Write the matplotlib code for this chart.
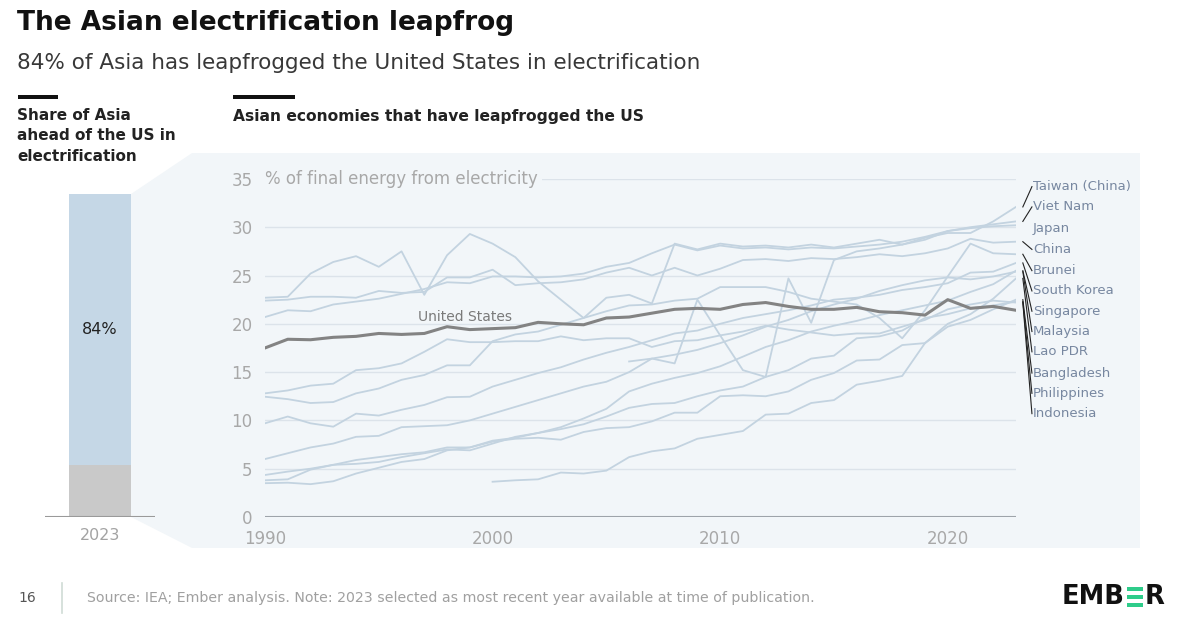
import matplotlib
matplotlib.use("Agg")
import matplotlib.pyplot as plt
import numpy as np
from matplotlib.patches import Polygon, Rectangle

nan = np.nan
years = list(range(1990, 2024))

# % of final energy from electricity
united_states = [17.5, 18.4, 18.35, 18.6, 18.7, 19.0, 18.9, 19.0, 19.7, 19.4,
                 19.5, 19.6, 20.15, 20.0, 19.9, 20.6, 20.7, 21.1, 21.5, 21.6,
                 21.5, 22.0, 22.2, 21.8, 21.5, 21.5, 21.7, 21.25, 21.15, 20.9,
                 22.5, 21.6, 21.8, 21.4]

taiwan = [6.0, 6.6, 7.2, 7.6, 8.3, 8.4, 9.3, 9.4, 9.5, 10.0,
          10.7, 11.4, 12.1, 12.8, 13.5, 14.0, 15.0, 16.4, 15.9, 22.5,
          18.8, 15.2, 14.5, 24.7, 20.1, 26.6, 27.5, 27.8, 28.2, 28.9,
          29.4, 29.4, 30.6, 32.1]
viet_nam = [20.7, 21.4, 21.3, 22.0, 22.3, 22.6, 23.1, 23.6, 24.3, 24.2,
            24.9, 24.9, 24.8, 24.9, 25.2, 25.9, 26.3, 27.3, 28.2, 27.6,
            28.1, 27.8, 27.9, 27.7, 27.9, 27.8, 28.0, 28.2, 28.5, 29.0,
            29.6, 30.0, 30.3, 30.6]
japan = [22.7, 22.8, 25.2, 26.4, 27.0, 25.9, 27.5, 23.0, 27.1, 29.3,
         28.3, 26.9, 24.4, 22.5, 20.6, 22.7, 23.0, 22.1, 28.3, 27.7,
         28.3, 28.0, 28.1, 27.9, 28.2, 27.9, 28.3, 28.7, 28.2, 28.7,
         29.6, 29.9, 30.1, 30.2]
china = [22.4, 22.5, 22.8, 22.8, 22.7, 23.4, 23.2, 23.3, 24.8, 24.8,
         25.6, 24.0, 24.2, 24.3, 24.6, 25.3, 25.8, 25.0, 25.8, 25.0,
         25.7, 26.6, 26.7, 26.5, 26.8, 26.7, 26.9, 27.2, 27.0, 27.3,
         27.8, 28.8, 28.4, 28.5]
brunei = [12.45, 12.2, 11.8, 11.9, 12.8, 13.3, 14.2, 14.7, 15.7, 15.7,
          18.2, 18.9, 19.2, 19.9, 20.6, 21.3, 21.9, 22.0, 22.4, 22.6,
          23.8, 23.8, 23.8, 23.3, 22.6, 22.3, 22.0, 20.6, 18.5, 21.4,
          24.9, 28.3, 27.3, 27.2]
south_korea = [9.7, 10.4, 9.7, 9.35, 10.7, 10.5, 11.1, 11.6, 12.4, 12.45,
               13.5, 14.2, 14.9, 15.5, 16.3, 17.0, 17.6, 18.3, 19.0, 19.3,
               20.0, 20.6, 21.0, 21.4, 21.9, 22.5, 22.7, 23.0, 23.5, 23.8,
               24.2, 25.3, 25.4, 26.3]
singapore = [4.35, 4.7, 5.0, 5.4, 5.5, 5.7, 6.2, 6.6, 7.0, 6.9,
             7.6, 8.3, 8.7, 9.3, 10.2, 11.2, 13.0, 13.8, 14.4, 14.9,
             15.6, 16.6, 17.6, 18.3, 19.2, 19.8, 20.3, 20.9, 21.4, 21.9,
             22.4, 23.3, 24.1, 25.5]
malaysia = [nan] * 16 + [16.1, 16.4, 16.8, 17.3,
                         18.0, 18.8, 19.7, 20.4, 21.3, 22.0, 22.6, 23.4, 24.0, 24.5,
                         24.8, 24.6, 24.9, 25.4]
lao_pdr = [nan] * 10 + [3.65, 3.8, 3.9, 4.6, 4.5, 4.8, 6.2, 6.8, 7.1, 8.1,
                        8.5, 8.9, 10.6, 10.7, 11.8, 12.1, 13.7, 14.1, 14.6, 18.0,
                        20.0, 21.0, 22.6, 24.7]
bangladesh = [3.8, 3.9, 4.9, 5.4, 5.9, 6.2, 6.5, 6.7, 7.2, 7.2,
              7.8, 8.1, 8.2, 8.0, 8.8, 9.2, 9.3, 9.9, 10.8, 10.8,
              12.5, 12.6, 12.5, 13.0, 14.2, 14.9, 16.2, 16.3, 17.8, 18.0,
              19.7, 20.4, 21.5, 22.5]
philippines = [3.5, 3.55, 3.4, 3.7, 4.5, 5.1, 5.7, 6.0, 6.9, 7.2,
               7.9, 8.2, 8.7, 9.1, 9.6, 10.4, 11.3, 11.7, 11.8, 12.5,
               13.1, 13.5, 14.5, 15.2, 16.4, 16.7, 18.5, 18.7, 19.3, 20.6,
               21.0, 21.6, 21.9, 22.3]
indonesia = [12.8, 13.1, 13.6, 13.8, 15.2, 15.4, 15.9, 17.1, 18.4, 18.1,
             18.1, 18.2, 18.2, 18.7, 18.3, 18.5, 18.5, 17.6, 18.2, 18.3,
             18.8, 19.2, 19.8, 19.4, 19.1, 18.8, 19.0, 19.0, 19.7, 20.4,
             21.5, 22.0, 22.4, 22.2]

economies = ["Taiwan (China)", "Viet Nam", "Japan", "China", "Brunei", "South Korea",
             "Singapore", "Malaysia", "Lao PDR", "Bangladesh", "Philippines", "Indonesia"]
economy_values = [taiwan, viet_nam, japan, china, brunei, south_korea,
                  singapore, malaysia, lao_pdr, bangladesh, philippines, indonesia]

bar_year = "2023"
share_ahead = 84
share_behind = 100 - share_ahead

W, H = 1200, 622
plt.rcParams['font.family'] = ["DejaVu Sans"]


def fx(px):
    return px / W


def fy(py):
    return 1 - py / H


fig = plt.figure(figsize=(12, 6.22), dpi=100)
fig.patch.set_facecolor("white")

# light panel behind the line chart, joined to the bar
panel_col = "#F2F6F9"
fig.patches.append(Polygon([(fx(131), fy(194)), (fx(192), fy(153)), (fx(1140), fy(153)),
                            (fx(1140), fy(548)), (fx(192), fy(548)), (fx(131), fy(517))],
                           closed=True, transform=fig.transFigure, facecolor=panel_col,
                           edgecolor="none", zorder=-5))

# header
fig.text(fx(17), fy(23), "The Asian electrification leapfrog", fontsize=19, fontweight="bold",
         color="#111111", va="center")
fig.text(fx(17), fy(63), "84% of Asia has leapfrogged the United States in electrification",
         fontsize=15.5, color="#383838", va="center")
fig.patches.append(Rectangle((fx(18), fy(99)), fx(40), 4 / H, transform=fig.transFigure,
                             facecolor="#111111", edgecolor="none"))
fig.patches.append(Rectangle((fx(233), fy(99)), fx(62), 4 / H, transform=fig.transFigure,
                             facecolor="#111111", edgecolor="none"))
fig.text(fx(17), fy(108), "Share of Asia\nahead of the US in\nelectrification", fontsize=11,
         fontweight="bold", color="#222222", va="top", linespacing=1.45)
fig.text(fx(233), fy(117), "Asian economies that have leapfrogged the US", fontsize=11.2,
         fontweight="bold", color="#222222", va="center")

# stacked share bar
axb = fig.add_axes([fx(45), fy(517), fx(110), (517 - 194) / H])
axb.set_xlim(-0.887, 0.887)
axb.set_ylim(0, 100)
axb.bar(0, share_behind, width=1.0, color="#C9C9C9")
axb.bar(0, share_ahead, width=1.0, bottom=share_behind, color="#C5D7E6")
axb.axhline(0, color="#9A9A9A", lw=1.5)
axb.text(0, share_behind + share_ahead / 2, f"{share_ahead}%", ha="center", va="center",
         fontsize=11.5, color="#222222")
axb.text(0, -3.5, bar_year, ha="center", va="top", fontsize=11.5, color="#A3A3A3")
axb.axis("off")

# line chart
ax = fig.add_axes([fx(265), fy(517), fx(1016 - 265), (517 - 178.9) / H])
ax.set_facecolor("none")
ax.set_xlim(1990, 2023)
ax.set_ylim(0, 35)
for v in range(5, 40, 5):
    ax.axhline(v, color="#DCE3EA", lw=1, zorder=1)
ax.axhline(0, color="#9EA4AA", lw=1.5, zorder=3)

for vals in economy_values:
    ax.plot(years, vals, color="#C3D3E0", lw=1.3, zorder=2)
ax.plot(years, united_states, color="#838383", lw=2.2, zorder=4)
ax.text(1998.8, 20.75, "United States", ha="center", va="center", fontsize=10,
        color="#7A7A7A")

ax.set_yticks(range(0, 36, 5))
ax.set_yticklabels([str(v) for v in range(0, 36, 5)])
ax.set_xticks([1990, 2000, 2010, 2020])
ax.tick_params(length=0, labelsize=12, labelcolor="#A8A8A8", pad=9)
for s in ax.spines.values():
    s.set_visible(False)
ax.text(1990, 35, "% of final energy from electricity", ha="left", va="center",
        fontsize=12, color="#A8A8A8",
        bbox=dict(facecolor=panel_col, edgecolor="none", pad=3))

# labels and leader lines at the right end
label_levels = [34.2, 32.1, 29.9, 27.7, 25.5, 23.4, 21.3, 19.2, 17.1, 14.9, 12.8, 10.7]
for name, vals, lvl in zip(economies, economy_values, label_levels):
    end = vals[-1]
    if abs(end - lvl) > 0.5:
        ax.plot([2023.3, 2023.7], [end, lvl], color="#222222", lw=0.8, clip_on=False)
    ax.text(2023.75, lvl, name, ha="left", va="center", fontsize=9.5, color="#7787A0",
            clip_on=False)

# footer
fig.text(fx(27), fy(598), "16", fontsize=10, color="#555555", va="center", ha="center")
fig.lines.append(plt.Line2D([fx(62), fx(62)], [fy(583), fy(613)], transform=fig.transFigure,
                            color="#CFDCD5", lw=1.2))
fig.text(fx(87), fy(598), "Source: IEA; Ember analysis. Note: 2023 selected as most recent year "
         "available at time of publication.", fontsize=10.2, color="#A0A0A0", va="center")

# logo: EMB + three green bars + R
renderer = fig.canvas.get_renderer()
t1 = fig.text(fx(1062), fy(597), "EMB", fontsize=18.5, fontweight="bold", color="#111111",
              va="center", ha="left")
bb = t1.get_window_extent(renderer)
x0 = bb.x1 + 2
for k in range(3):
    fig.patches.append(Rectangle((x0 / W, fy(587 + 8 * k + 4)), 16 / W, 4.5 / H,
                                 transform=fig.transFigure, facecolor="#2ECC8A",
                                 edgecolor="none"))
fig.text((x0 + 18) / W, fy(597), "R", fontsize=18.5, fontweight="bold", color="#111111",
         va="center", ha="left")

fig.savefig("out.png", dpi=100, facecolor="white")
